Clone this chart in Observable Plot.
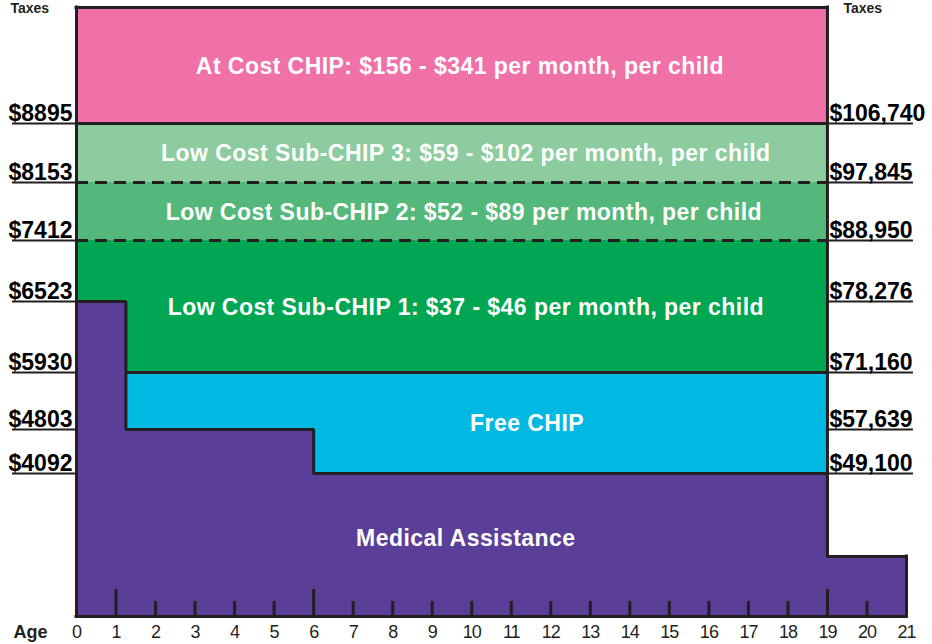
<!DOCTYPE html>
<html>
<head>
<meta charset="utf-8">
<script src="https://cdn.jsdelivr.net/npm/d3@7"></script>
<script src="https://cdn.jsdelivr.net/npm/@observablehq/plot@0.6"></script>
<style>
  body { margin: 0; background: #fff; }
  #chart svg { display: block; }
  g[aria-description="region-labels"] text { letter-spacing: 0.45px; }
  g[aria-description="age-ticks"] text { letter-spacing: -1px; }
</style>
</head>
<body>
<div id="chart"></div>
<script>
// ---- data ----
// Monthly income thresholds (left labels) and their yearly equivalents (right labels)
const monthlyLevels = [4092, 4803, 5930, 6523, 7412, 8153, 8895];
const annualLabels = ["$49,100", "$57,639", "$71,160", "$78,276", "$88,950", "$97,845", "$106,740"];
// Medical Assistance upper limit by age (step function)
const maAges = [0, 1.25, 6, 19, 21];
const maTops = [6523, 4803, 4092, 2965, 2965];
const ma19 = 2965;          // unlabelled MA level for ages 19-21
const topLevel = 10000;     // open-ended top of the At Cost band
const chipEndAge = 19;
const maxAge = 21;
// CHIP bands
const bandNames = ["At Cost CHIP", "Low Cost Sub-CHIP 3", "Low Cost Sub-CHIP 2", "Low Cost Sub-CHIP 1", "Free CHIP"];
const bandLo = [8895, 8153, 7412, 5930, 4092];
const bandHi = [topLevel, 8895, 8153, 7412, 5930];
const bandColors = ["#f070a8", "#8ccc9e", "#53b87a", "#00a651", "#00b9e3"];
const maColor = "#5a3e98";
// Region labels
const regionTexts = [
  "At Cost CHIP: $156 - $341 per month, per child",
  "Low Cost Sub-CHIP 3: $59 - $102 per month, per child",
  "Low Cost Sub-CHIP 2: $52 - $89 per month, per child",
  "Low Cost Sub-CHIP 1: $37 - $46 per month, per child",
  "Free CHIP",
  "Medical Assistance"
];
const regionLo = [8895, 8153, 7412, 5930, 4092, 0];
const regionHi = [topLevel, 8895, 8153, 7412, 5930, 4092];
const regionAges = [9.7, 9.85, 9.8, 9.85, 11.4, 9.85];
// Age axis
const ageTicks = d3.range(0, 22);
const majorAges = [1, 6, 19];
const minorAges = ageTicks.filter(a => a > 0 && a < 21 && !majorAges.includes(a));

// ---- build ----
const ink = "#231f20";
const yOpts = {
  type: "linear",
  domain: [0, ma19, 4092, 4803, 5930, 6523, 7412, 8153, 8895, topLevel],
  range: [616, 556, 473, 429, 372, 301, 240, 182, 123, 7],
  nice: false
};
const yScale = Plot.scale({y: yOpts});
const bands = bandNames.map((name, i) => ({name, lo: bandLo[i], hi: bandHi[i], color: bandColors[i]}));
const maData = maAges.map((age, i) => ({age, top: maTops[i]}));
const regions = regionTexts.map((label, i) => ({
  label,
  age: regionAges[i],
  mid: yScale.invert((yScale.apply(regionLo[i]) + yScale.apply(regionHi[i])) / 2)
}));
const labelFont = {fontSize: 23, fontWeight: "bold", fill: "black"};
const regionFont = {fill: "white", fontSize: 23, fontWeight: "bold", ariaDescription: "region-labels"};

const chart = Plot.plot({
  width: 932,
  height: 644,
  marginLeft: 76,
  marginRight: 26,
  marginTop: 7,
  marginBottom: 28,
  style: {fontFamily: "'Liberation Sans', Arial, Helvetica, sans-serif", background: "white", color: ink},
  x: {domain: [0, maxAge], axis: null},
  y: {...yOpts, axis: null},
  color: {type: "identity"},
  marks: [
    Plot.rect(bands, {x1: 0, x2: chipEndAge, y1: "lo", y2: "hi", fill: "color"}),
    Plot.areaY(maData, {x: "age", y1: 0, y2: "top", curve: "step-after", fill: maColor}),
    // bottom age ticks (inside)
    Plot.ruleX(majorAges, {x: d => d, y1: 0, y2: 0, insetTop: -27, stroke: ink, strokeWidth: 3}),
    Plot.ruleX(minorAges, {x: d => d, y1: 0, y2: 0, insetTop: -15, stroke: ink, strokeWidth: 3}),
    // band boundaries
    Plot.ruleY([8895], {y: d => d, x1: 0, x2: chipEndAge, stroke: ink, strokeWidth: 3}),
    Plot.ruleY([8153, 7412], {y: d => d, x1: 0, x2: chipEndAge, stroke: ink, strokeWidth: 3, strokeDasharray: "12,7"}),
    Plot.ruleY([5930], {y: d => d, x1: maAges[1], x2: chipEndAge, stroke: ink, strokeWidth: 3}),
    Plot.lineY(maData, {x: "age", y: "top", curve: "step-after", stroke: ink, strokeWidth: 3, strokeLinejoin: "miter"}),
    // frame
    Plot.ruleX([0], {x: d => d, y1: 0, y2: topLevel, stroke: ink, strokeWidth: 3, strokeLinecap: "square"}),
    Plot.ruleX([chipEndAge], {x: d => d, y1: ma19, y2: topLevel, stroke: ink, strokeWidth: 3, strokeLinecap: "square"}),
    Plot.ruleX([maxAge], {x: d => d, y1: 0, y2: ma19, stroke: ink, strokeWidth: 3, strokeLinecap: "square"}),
    Plot.ruleY([topLevel], {y: d => d, x1: 0, x2: chipEndAge, stroke: ink, strokeWidth: 3, strokeLinecap: "square"}),
    Plot.ruleY([0], {y: d => d, x1: 0, x2: maxAge, stroke: ink, strokeWidth: 3, strokeLinecap: "square"}),
    // left (monthly) labels
    Plot.ruleY(monthlyLevels, {y: d => d, x1: 0, x2: 0, insetLeft: -64, stroke: ink, strokeWidth: 2}),
    Plot.text(monthlyLevels, {x: 0, y: d => d, text: d => "$" + d, textAnchor: "end", lineAnchor: "bottom",
      dx: -4, dy: -3, ...labelFont}),
    // right (yearly) labels
    Plot.ruleY(monthlyLevels, {y: d => d, x1: chipEndAge, x2: chipEndAge, insetRight: -86, stroke: ink, strokeWidth: 2}),
    Plot.text(monthlyLevels, {x: chipEndAge, y: d => d, text: (d, i) => annualLabels[i], textAnchor: "start", lineAnchor: "bottom",
      dx: 2, dy: -3, ...labelFont}),
    // region labels
    Plot.text(regions.slice(0, 5), {x: "age", y: "mid", text: "label", dy: 1, ...regionFont}),
    Plot.text(regions.slice(5), {x: "age", y: "mid", text: "label", dy: -6, ...regionFont}),
    // age axis
    Plot.axisX(ageTicks, {anchor: "bottom", tickSize: 0, tickPadding: 9, fontSize: 18, fill: ink, label: null,
      tickFormat: d => String(d), ariaDescription: "age-ticks"}),
    Plot.text(["Age"], {frameAnchor: "bottom-left", text: d => d, dx: -63, dy: 9, textAnchor: "start", lineAnchor: "top",
      fontSize: 18, fontWeight: "bold", fill: ink}),
    // "Taxes" headers above the income columns
    Plot.text(["Taxes"], {frameAnchor: "top-left", text: d => d, dx: -66, dy: 5, textAnchor: "start", lineAnchor: "bottom",
      fontSize: 14, fontWeight: "bold", fill: ink}),
    Plot.text(["Taxes"], {x: chipEndAge, frameAnchor: "top", text: d => d, dx: 16, dy: 5, textAnchor: "start", lineAnchor: "bottom",
      fontSize: 14, fontWeight: "bold", fill: ink})
  ]
});
document.getElementById("chart").append(chart);
</script>
</body>
</html>
